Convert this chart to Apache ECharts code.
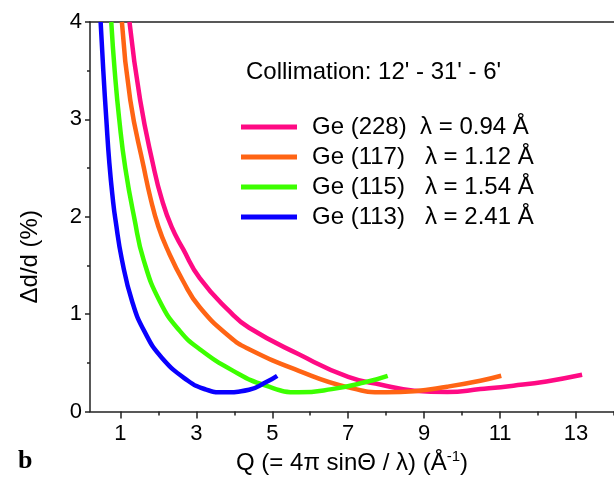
<!DOCTYPE html>
<html>
<head>
<meta charset="utf-8">
<script src="https://cdn.jsdelivr.net/npm/echarts@6/dist/echarts.min.js"></script>
<style>
  html, body { margin: 0; padding: 0; background: #fff; }
  #chart { width: 614px; height: 480px; }
</style>
</head>
<body>
<div id="chart"></div>
<script>
// curves: Q (1/Å) and Δd/d (%)
const q228 = [1.24, 1.52, 1.87, 2.09, 2.35, 2.65, 3.09, 3.87, 4.39, 5.70, 7.0, 7.87, 8.74, 9.61, 10.48, 11.35, 12.22, 13.16]
const d228 = [4.0, 3.2, 2.52, 2.18, 1.895, 1.67, 1.37, 1.03, 0.86, 0.587, 0.355, 0.275, 0.214, 0.2, 0.23, 0.265, 0.309, 0.377]

const q117 = [1.04, 1.26, 1.62, 1.80, 2.0, 2.22, 2.65, 3.09, 3.87, 4.39, 5.70, 7.0, 8.0, 8.74, 9.61, 10.48, 11.03]
const d117 = [4.0, 3.2, 2.5, 2.18, 1.9, 1.68, 1.34, 1.07, 0.77, 0.64, 0.418, 0.248, 0.197, 0.208, 0.255, 0.316, 0.367]

const q115 = [0.76, 0.85, 0.97, 1.13, 1.37, 1.61, 2.04, 2.57, 3.09, 3.96, 4.83, 5.70, 6.57, 7.44, 8.04]
const d115 = [4.0, 3.5, 3.0, 2.5, 1.98, 1.56, 1.13, 0.825, 0.64, 0.42, 0.265, 0.197, 0.23, 0.30, 0.367]

const q113 = [0.48, 0.55, 0.63, 0.71, 0.81, 0.87, 1.04, 1.31, 1.63, 2.09, 2.78, 3.26, 3.70, 4.39, 4.83, 5.13]
const d113 = [4.0, 3.5, 3.0, 2.55, 2.15, 1.97, 1.56, 1.13, 0.825, 0.553, 0.316, 0.225, 0.197, 0.224, 0.30, 0.367]

const names = ['Ge (228)  λ = 0.94 Å', 'Ge (117)   λ = 1.12 Å', 'Ge (115)   λ = 1.54 Å', 'Ge (113)   λ = 2.41 Å']
const colors = ['#ff0a84', '#ff6414', '#3cff00', '#0a00ff']

const xMajor = [1, 3, 5, 7, 9, 11, 13]
const xMinor = [2, 4, 6, 8, 10, 12, 14]

const font = 'Liberation Sans, Arial, sans-serif'
const axisColor = '#222'

const chart = echarts.init(document.getElementById('chart'))

function pairs(q, d) {
  return q.map((v, i) => [v, d[i]])
}

const curves = [pairs(q228, d228), pairs(q117, d117), pairs(q115, d115), pairs(q113, d113)]

const option = {
  animation: false,
  title: {
    text: "Collimation: 12' - 31' - 6'",
    left: 246,
    top: 60,
    padding: 0,
    textStyle: { fontFamily: font, fontSize: 24, fontWeight: 'normal', color: '#000', lineHeight: 24 }
  },
  legend: {
    orient: 'vertical',
    left: 241,
    top: 115,
    padding: 0,
    icon: 'rect',
    itemWidth: 56,
    itemHeight: 5,
    itemGap: 6,
    textStyle: { fontFamily: font, fontSize: 24, color: '#000', lineHeight: 24, padding: [0, 0, 0, 10] },
    data: names
  },
  grid: { left: 90, top: 22, width: 529, height: 392 },
  xAxis: [
    {
      type: 'value', min: 0.2, max: 14, position: 'bottom',
      name: 'Q (= 4π sinΘ / λ) (Å{sup|-1})',
      nameLocation: 'middle', nameGap: 38,
      nameTextStyle: {
        fontFamily: font, fontSize: 24, color: '#000',
        rich: { sup: { fontFamily: font, fontSize: 15, color: '#000', verticalAlign: 'top', padding: [0, 0, 12, 0] } }
      },
      splitLine: { show: false },
      axisLine: { lineStyle: { color: axisColor, width: 1.5 } },
      axisTick: { customValues: xMajor, length: 7, lineStyle: { color: axisColor, width: 1.5 } },
      axisLabel: { customValues: xMajor, fontFamily: font, fontSize: 22, color: '#000', margin: 11 }
    },
    {
      type: 'value', min: 0.2, max: 14, position: 'bottom',
      splitLine: { show: false },
      axisLine: { show: false },
      axisTick: { customValues: xMinor, length: 4, lineStyle: { color: axisColor, width: 1.5 } },
      axisLabel: { show: false }
    },
    {
      type: 'value', min: 0.2, max: 14, position: 'top',
      splitLine: { show: false },
      axisLine: { lineStyle: { color: axisColor, width: 1.5 } },
      axisTick: { show: false },
      axisLabel: { show: false }
    }
  ],
  yAxis: {
    type: 'value', min: 0, max: 4, interval: 1,
    name: 'Δd/d (%)',
    nameLocation: 'middle', nameGap: 48, nameRotate: 90,
    nameTextStyle: { fontFamily: font, fontSize: 24, color: '#000', padding: [0, 80, 0, 0] },
    splitLine: { show: false },
    axisLine: { show: true, lineStyle: { color: axisColor, width: 1.5 } },
    axisTick: { show: true, length: 5, lineStyle: { color: axisColor, width: 1.5 } },
    minorTick: { show: true, splitNumber: 2, length: 3, lineStyle: { color: axisColor, width: 1.5 } },
    axisLabel: { fontFamily: font, fontSize: 22, color: '#000', margin: 8 }
  },
  graphic: [
    {
      type: 'text', left: 18, top: 448,
      style: { text: 'b', font: 'bold 26px "Liberation Serif", "Times New Roman", serif', fill: '#000' }
    }
  ],
  series: curves.map((data, i) => ({
    name: names[i],
    type: 'line',
    data: data,
    smooth: 0.5,
    showSymbol: false,
    symbol: 'none',
    color: colors[i],
    lineStyle: { width: 4.5, color: colors[i] }
  }))
}

chart.setOption(option)
</script>
</body>
</html>
